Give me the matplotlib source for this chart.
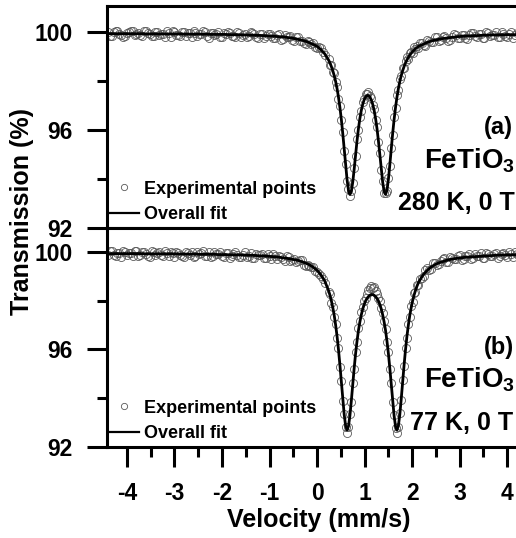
import matplotlib
matplotlib.use('Agg')
import matplotlib.pyplot as plt
from matplotlib.lines import Line2D
from matplotlib.ticker import MultipleLocator

# channel velocities (mm/s), shared by both spectra
vel_left = [-4.40, -4.32, -4.24, -4.16, -4.08, -4.00, -3.92, -3.84, -3.76, -3.68,
            -3.60, -3.52, -3.44, -3.36, -3.28, -3.20, -3.12, -3.04, -2.96, -2.88,
            -2.80, -2.72, -2.64, -2.56, -2.48, -2.40, -2.32, -2.24, -2.16, -2.08,
            -2.00, -1.92, -1.84, -1.76, -1.68, -1.60, -1.52, -1.44, -1.36, -1.28,
            -1.20, -1.12, -1.04, -0.96, -0.88, -0.80, -0.72, -0.64, -0.56, -0.48,
            -0.40, -0.32, -0.24, -0.16, -0.08, 0.00, 0.08, 0.16]
vel_dip = [0.24, 0.27, 0.30, 0.33, 0.36, 0.39, 0.42, 0.45, 0.48, 0.51,
           0.54, 0.57, 0.60, 0.63, 0.66, 0.69, 0.72, 0.75, 0.78, 0.81,
           0.84, 0.87, 0.90, 0.93, 0.96, 0.99, 1.02, 1.05, 1.08, 1.11,
           1.14, 1.17, 1.20, 1.23, 1.26, 1.29, 1.32, 1.35, 1.38, 1.41,
           1.44, 1.47, 1.50, 1.53, 1.56, 1.59, 1.62, 1.65, 1.68, 1.71,
           1.74, 1.77, 1.80, 1.83, 1.86, 1.89, 1.92, 1.95, 1.98, 2.01,
           2.04, 2.07, 2.10, 2.13, 2.16]
vel_right = [2.24, 2.32, 2.40, 2.48, 2.56, 2.64, 2.72, 2.80, 2.88, 2.96,
             3.04, 3.12, 3.20, 3.28, 3.36, 3.44, 3.52, 3.60, 3.68, 3.76,
             3.84, 3.92, 4.00, 4.08, 4.16, 4.24, 4.32, 4.40, 4.48]
# the other half of the channels on the flat parts (between the ones above)
vel_left_odd = [-4.36, -4.28, -4.20, -4.12, -4.04, -3.96, -3.88, -3.80, -3.72, -3.64,
                -3.56, -3.48, -3.40, -3.32, -3.24, -3.16, -3.08, -3.00, -2.92, -2.84,
                -2.76, -2.68, -2.60, -2.52, -2.44, -2.36, -2.28, -2.20, -2.12, -2.04,
                -1.96, -1.88, -1.80, -1.72, -1.64, -1.56, -1.48, -1.40, -1.32, -1.24,
                -1.16, -1.08, -1.00, -0.92, -0.84, -0.76, -0.68, -0.60, -0.52, -0.44,
                -0.36, -0.28, -0.20, -0.12, -0.04, 0.04, 0.12]
vel_right_odd = [2.20, 2.28, 2.36, 2.44, 2.52, 2.60, 2.68, 2.76, 2.84, 2.92,
                 3.00, 3.08, 3.16, 3.24, 3.32, 3.40, 3.48, 3.56, 3.64, 3.72,
                 3.80, 3.88, 3.96, 4.04, 4.12, 4.20, 4.28, 4.36, 4.44]

# (a) 280 K
exp_a_left = [99.99, 99.85, 100.04, 99.90, 99.81, 99.97, 100.02, 99.87, 99.95, 99.83,
              100.05, 99.90, 99.85, 100.00, 99.92, 99.81, 99.97, 100.02, 99.87, 99.83,
              99.98, 99.94, 99.78, 99.97, 99.90, 100.03, 99.83, 99.94, 99.86, 99.99,
              99.78, 99.91, 99.97, 99.83, 100.00, 99.79, 99.91, 99.85, 99.97, 99.79,
              99.91, 99.74, 99.91, 99.85, 99.77, 99.93, 99.70, 99.78, 99.82, 99.65,
              99.79, 99.63, 99.50, 99.60, 99.57, 99.35, 99.33, 99.04]
exp_a_dip = [98.90, 98.66, 98.65, 98.37, 98.31, 97.95, 97.74, 97.26, 96.99, 96.39,
             95.92, 95.16, 94.63, 93.92, 93.58, 93.32, 93.52, 93.82, 94.46, 94.95,
             95.63, 96.01, 96.55, 96.77, 97.14, 97.25, 97.45, 97.45, 97.53, 97.38,
             97.31, 97.01, 96.86, 96.40, 96.11, 95.50, 95.06, 94.35, 93.91, 93.43,
             93.42, 93.50, 94.04, 94.51, 95.28, 95.80, 96.51, 96.88, 97.41, 97.64,
             98.07, 98.19, 98.52, 98.53, 98.82, 98.98, 98.91, 99.15, 99.17, 99.13,
             99.37, 99.29, 99.44, 99.35, 99.54]
exp_a_right = [99.45, 99.67, 99.59, 99.78, 99.62, 99.79, 99.76, 99.67, 99.91, 99.77,
               99.89, 99.74, 99.87, 99.95, 99.79, 99.91, 99.76, 99.95, 99.86, 100.01,
               99.81, 99.93, 99.80, 99.99, 99.86, 99.96, 99.80, 99.98, 99.85]
exp_a_left_odd = [99.84, 100.00, 100.05, 99.89, 99.82, 99.98, 100.03, 99.91, 99.86, 100.05,
                  99.95, 99.82, 100.00, 99.87, 99.93, 100.03, 99.80, 99.98, 99.89, 100.00,
                  99.83, 99.95, 100.03, 99.85, 99.90, 100.01, 99.77, 99.97, 99.92, 99.81,
                  99.95, 100.00, 99.85, 99.79, 99.96, 99.88, 99.80, 99.99, 99.90, 99.75,
                  99.92, 99.83, 99.93, 99.75, 99.86, 99.69, 99.89, 99.78, 99.69, 99.79,
                  99.65, 99.55, 99.64, 99.49, 99.38, 99.38, 99.18]
exp_a_right_odd = [99.54, 99.44, 99.65, 99.59, 99.80, 99.69, 99.82, 99.64, 99.80, 99.89,
                   99.75, 99.88, 99.73, 99.95, 99.83, 99.92, 99.77, 99.99, 99.84, 99.89,
                   99.80, 100.00, 99.84, 99.92, 99.76, 99.97, 99.90, 99.84, 99.99]
fit_a_left = [99.93, 99.93, 99.93, 99.93, 99.93, 99.93, 99.93, 99.93, 99.93, 99.93,
              99.92, 99.92, 99.92, 99.92, 99.92, 99.92, 99.92, 99.92, 99.92, 99.92,
              99.91, 99.91, 99.91, 99.91, 99.91, 99.91, 99.91, 99.90, 99.90, 99.90,
              99.90, 99.90, 99.89, 99.89, 99.89, 99.88, 99.88, 99.87, 99.87, 99.86,
              99.86, 99.85, 99.84, 99.83, 99.82, 99.81, 99.80, 99.78, 99.76, 99.73,
              99.70, 99.66, 99.62, 99.56, 99.49, 99.41, 99.28, 99.11]
fit_a_dip = [98.86, 98.74, 98.59, 98.42, 98.22, 97.98, 97.69, 97.34, 96.92, 96.43,
             95.86, 95.23, 94.58, 93.98, 93.54, 93.37, 93.49, 93.87, 94.40, 94.99,
             95.56, 96.06, 96.47, 96.80, 97.05, 97.23, 97.35, 97.41, 97.41, 97.35,
             97.23, 97.05, 96.80, 96.47, 96.06, 95.56, 94.99, 94.40, 93.87, 93.49,
             93.37, 93.54, 93.98, 94.58, 95.23, 95.86, 96.43, 96.92, 97.34, 97.69,
             97.98, 98.22, 98.42, 98.59, 98.74, 98.86, 98.96, 99.06, 99.13, 99.20,
             99.26, 99.32, 99.36, 99.41, 99.44]
fit_a_right = [99.50, 99.58, 99.63, 99.67, 99.70, 99.73, 99.75, 99.77, 99.79, 99.81,
               99.82, 99.83, 99.84, 99.85, 99.85, 99.86, 99.87, 99.87, 99.88, 99.88,
               99.88, 99.89, 99.89, 99.89, 99.89, 99.90, 99.90, 99.90, 99.90]

# (b) 77 K
exp_b_left = [99.88, 100.02, 99.82, 99.96, 100.05, 99.86, 99.94, 100.03, 99.84, 99.98,
              99.90, 99.80, 100.00, 99.96, 99.86, 100.03, 99.82, 99.94, 99.99, 99.87,
              99.78, 99.97, 100.00, 99.83, 99.90, 100.02, 99.85, 99.81, 100.00, 99.92,
              99.82, 99.97, 99.77, 99.93, 99.89, 99.81, 99.98, 99.83, 99.76, 99.92,
              99.88, 99.75, 99.91, 99.69, 99.82, 99.84, 99.71, 99.84, 99.62, 99.71,
              99.61, 99.68, 99.44, 99.41, 99.39, 99.16, 99.01, 98.71]
exp_b_dip = [98.36, 98.28, 97.92, 97.76, 97.33, 97.06, 96.49, 96.06, 95.30, 94.72,
             93.90, 93.37, 92.81, 92.58, 92.81, 93.34, 93.84, 94.64, 95.19, 95.91,
             96.31, 96.87, 97.18, 97.52, 97.74, 97.98, 98.11, 98.29, 98.42, 98.52,
             98.61, 98.53, 98.55, 98.39, 98.27, 98.09, 97.97, 97.72, 97.51, 97.15,
             96.85, 96.30, 95.89, 95.18, 94.62, 93.83, 93.32, 92.77, 92.56, 92.82,
             93.38, 93.91, 94.74, 95.31, 96.05, 96.47, 97.05, 97.34, 97.79, 97.96,
             98.31, 98.37, 98.65, 98.66, 98.89]
exp_b_right = [99.02, 99.33, 99.29, 99.53, 99.51, 99.70, 99.58, 99.81, 99.70, 99.83,
               99.68, 99.84, 99.90, 99.74, 99.84, 99.95, 99.74, 99.91, 99.82, 99.96,
               99.82, 99.95, 99.78, 99.92, 99.99, 99.82, 99.95, 99.85, 99.98]
exp_b_left_odd = [100.03, 99.87, 99.96, 99.81, 100.01, 99.94, 99.84, 100.04, 99.89, 99.99,
                  99.82, 100.04, 99.89, 99.99, 99.84, 99.94, 100.01, 99.81, 99.97, 99.85,
                  100.01, 99.89, 99.78, 99.99, 99.94, 99.83, 100.01, 99.85, 99.90, 99.98,
                  99.79, 99.95, 99.85, 100.00, 99.80, 99.89, 99.81, 99.95, 99.75, 99.89,
                  99.91, 99.74, 99.83, 99.91, 99.72, 99.80, 99.63, 99.78, 99.68, 99.59,
                  99.67, 99.47, 99.46, 99.39, 99.22, 99.09, 98.87]
exp_b_right_odd = [98.93, 99.25, 99.25, 99.53, 99.47, 99.61, 99.75, 99.58, 99.77, 99.71,
                   99.86, 99.69, 99.83, 99.69, 99.90, 99.83, 99.77, 99.97, 99.82, 99.93,
                   99.77, 99.92, 99.87, 99.98, 99.81, 99.91, 99.97, 99.77, 99.95]
fit_b_left = [99.93, 99.93, 99.93, 99.93, 99.93, 99.93, 99.93, 99.93, 99.93, 99.93,
              99.92, 99.92, 99.92, 99.92, 99.92, 99.92, 99.92, 99.92, 99.92, 99.91,
              99.91, 99.91, 99.91, 99.91, 99.90, 99.90, 99.90, 99.90, 99.90, 99.89,
              99.89, 99.89, 99.88, 99.88, 99.88, 99.87, 99.87, 99.86, 99.86, 99.85,
              99.84, 99.83, 99.82, 99.81, 99.80, 99.78, 99.76, 99.74, 99.71, 99.68,
              99.65, 99.60, 99.54, 99.47, 99.37, 99.24, 99.06, 98.81]
fit_b_dip = [98.42, 98.23, 98.00, 97.72, 97.40, 97.00, 96.54, 95.99, 95.36, 94.67,
             93.97, 93.33, 92.87, 92.70, 92.85, 93.28, 93.89, 94.57, 95.23, 95.83,
             96.34, 96.78, 97.13, 97.42, 97.66, 97.84, 97.99, 98.09, 98.17, 98.22,
             98.25, 98.25, 98.22, 98.17, 98.09, 97.99, 97.84, 97.66, 97.42, 97.13,
             96.78, 96.34, 95.83, 95.23, 94.57, 93.89, 93.28, 92.85, 92.70, 92.87,
             93.33, 93.97, 94.67, 95.36, 95.99, 96.54, 97.00, 97.40, 97.72, 98.00,
             98.23, 98.42, 98.59, 98.73, 98.84]
fit_b_right = [99.08, 99.25, 99.38, 99.48, 99.55, 99.60, 99.65, 99.69, 99.72, 99.74,
               99.76, 99.78, 99.79, 99.80, 99.81, 99.82, 99.83, 99.84, 99.85, 99.86,
               99.87, 99.87, 99.88, 99.88, 99.88, 99.89, 99.89, 99.89, 99.89]

panel_labels = ['(a)', '(b)']
conditions = ['280 K, 0 T', '77 K, 0 T']

velocity = vel_left + vel_dip + vel_right
velocity_points = velocity + vel_left_odd + vel_right_odd
experimental = [exp_a_left + exp_a_dip + exp_a_right + exp_a_left_odd + exp_a_right_odd,
                exp_b_left + exp_b_dip + exp_b_right + exp_b_left_odd + exp_b_right_odd]
fits = [fit_a_left + fit_a_dip + fit_a_right, fit_b_left + fit_b_dip + fit_b_right]

plt.rcParams['font.family'] = ['Liberation Sans', 'DejaVu Sans']
plt.rcParams['font.weight'] = 'bold'
plt.rcParams['axes.unicode_minus'] = False
plt.rcParams['mathtext.fontset'] = 'custom'
plt.rcParams['mathtext.rm'] = 'Liberation Sans:bold'
plt.rcParams['mathtext.bf'] = 'Liberation Sans:bold'

fig = plt.figure(figsize=(5.16, 5.38), dpi=100)
W, H = 516.0, 538.0
ax_top = fig.add_axes([107 / W, 1 - 228 / H, 424 / W, 222 / H])
ax_bot = fig.add_axes([107 / W, 1 - 447 / H, 424 / W, 219 / H])
ylims = [(92, 101.06), (92, 100.98)]
cond_x = [1.70, 1.95]

for i, ax in enumerate([ax_top, ax_bot]):
    ax.plot(velocity_points, experimental[i], 'o', ms=5.8, mfc='none', mec='0.35', mew=0.6)
    ax.plot(velocity, fits[i], '-', color='black', lw=2.0)
    ax.set_xlim(-4.42, 4.5)
    ax.set_ylim(*ylims[i])
    ax.set_yticks([92, 96, 100])
    ax.yaxis.set_minor_locator(MultipleLocator(2))
    ax.xaxis.set_major_locator(MultipleLocator(1))
    ax.xaxis.set_minor_locator(MultipleLocator(0.5))
    for s in ax.spines.values():
        s.set_linewidth(2.2)
    ax.tick_params(axis='y', which='major', direction='out', length=14.5, width=2.2,
                   labelsize=16.5, pad=10)
    ax.tick_params(axis='y', which='minor', direction='out', length=7.5, width=2.2)
    ax.tick_params(axis='x', which='major', direction='out', length=14.5, width=2.2,
                   labelsize=16.5, pad=11)
    ax.tick_params(axis='x', which='minor', direction='out', length=7.5, width=2.2)

    ax.text(3.50, 96.1, panel_labels[i], fontsize=17, ha='left', va='center')
    ax.text(2.25, 94.75, r'FeTiO$_{\mathbf{3}}$', fontsize=20, ha='left', va='center')
    ax.text(cond_x[i], 93.0, conditions[i], fontsize=18, ha='left', va='center')

    handles = [Line2D([], [], ls='none', marker='o', ms=4.5, mfc='none', mec='0.35', mew=0.6),
               Line2D([], [], color='black', lw=1.6)]
    ax.legend(handles, ['Experimental points', 'Overall fit'], loc='lower left',
              bbox_to_anchor=(0.0, 0.015), frameon=False, fontsize=13, handlelength=1.65,
              handletextpad=0.3, labelspacing=0.45, borderpad=0.1, borderaxespad=0.0)

ax_top.tick_params(axis='x', which='both', bottom=False, labelbottom=False)
ax_bot.set_xlabel('Velocity (mm/s)', fontsize=18, fontweight='bold', labelpad=2)
fig.text(22 / W, 1 - 212 / H, 'Transmission (%)', rotation=90, fontsize=18,
         fontweight='bold', ha='center', va='center')

fig.savefig('out.png', dpi=100)
